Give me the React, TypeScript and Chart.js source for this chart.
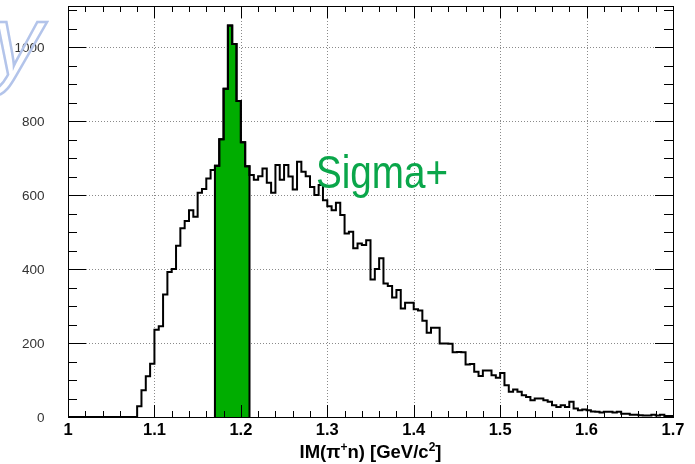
import React, { useEffect, useRef } from "react";
import { Chart, registerables } from "chart.js";

Chart.register(...registerables);

// ---- data ----
const X_MIN = 1.0;
const X_MAX = 1.7;
const BIN_WIDTH = 0.005;
const Y_MIN = 0;
const Y_MAX = 1111;

// counts per bin, bins of 0.005 GeV/c^2 from 1.000 to 1.700
const counts = [
  0, 0, 0, 0, 0, 0, 0, 0, 0, 0, 0, 0, 0, 0, 0, 0,
  29, 72, 110, 144, 236, 245, 331, 392, 400, 463, 510, 530, 559, 541, 606, 616, 645, 668,
  679, 751, 887, 1058, 1008, 854, 743, 678,
  654, 641, 651, 672, 633, 606, 681, 641, 681, 650, 615, 690, 663, 651, 622, 600, 627, 586,
  570, 559, 579, 546, 496, 501, 456, 469, 465, 478, 372, 400, 429, 361, 354, 323, 343, 293, 309, 309,
  291, 288, 260, 228, 241, 241, 199, 199, 198, 175, 176, 175, 142, 143, 122, 111, 126, 126, 113, 106,
  119, 86, 68, 74, 68, 59, 54, 45, 50, 50, 45, 41, 32, 27, 32, 27, 41, 23, 18, 20,
  18, 15, 14, 12, 14, 14, 12, 14, 9, 9, 6, 6, 5, 4, 4, 6, 4, 6, 3, 3,
];

// selected (filled) mass window
const SEL_LOW = 1.17;
const SEL_HIGH = 1.21;

const xTickValues = [1.0, 1.1, 1.2, 1.3, 1.4, 1.5, 1.6, 1.7];
const xTickLabels = ["1", "1.1", "1.2", "1.3", "1.4", "1.5", "1.6", "1.7"];
const yTickValues = [0, 200, 400, 600, 800, 1000];
const yTickLabels = ["0", "200", "400", "600", "800", "1000"];
const X_MINOR = 0.02;
const Y_MINOR = 50;

const LABEL_TEXT = "Sigma+";
const TITLE_PARTS = [
  { t: "IM(\u03c0", sup: false },
  { t: "+", sup: true },
  { t: "n) [GeV/c", sup: false },
  { t: "2", sup: true },
  { t: "]", sup: false },
];

const FONT = "'Liberation Sans', Arial, Helvetica, sans-serif";
const GREEN = "#00ad00";

function histPoints(lo: number, hi: number, closeToZero: boolean) {
  const pts: { x: number; y: number }[] = [];
  for (let i = 0; i < counts.length; i++) {
    const x0 = X_MIN + i * BIN_WIDTH;
    const x1 = x0 + BIN_WIDTH;
    const c = x0 + BIN_WIDTH / 2;
    if (c < lo || c > hi) continue;
    if (closeToZero && pts.length === 0) pts.push({ x: x0, y: 0 });
    pts.push({ x: x0, y: counts[i] });
    pts.push({ x: x1, y: counts[i] });
  }
  if (closeToZero && pts.length) pts.push({ x: pts[pts.length - 1].x, y: 0 });
  return pts;
}

const overlay = {
  id: "overlay",
  beforeDatasetsDraw(chart: any) {
    const { ctx, chartArea: a, scales } = chart;
    const x = scales.x;
    const y = scales.y;
    ctx.save();
    ctx.strokeStyle = "#8a8a8a";
    ctx.lineWidth = 1;
    ctx.setLineDash([1, 2]);
    for (const v of xTickValues) {
      if (v <= X_MIN + 1e-9 || v >= X_MAX - 1e-9) continue;
      const px = Math.round(x.getPixelForValue(v)) + 0.5;
      ctx.beginPath();
      ctx.moveTo(px, a.top);
      ctx.lineTo(px, a.bottom);
      ctx.stroke();
    }
    for (const v of yTickValues) {
      if (v <= Y_MIN) continue;
      const py = Math.round(y.getPixelForValue(v)) + 0.5;
      ctx.beginPath();
      ctx.moveTo(a.left, py);
      ctx.lineTo(a.right, py);
      ctx.stroke();
    }
    ctx.restore();
  },
  afterDatasetsDraw(chart: any) {
    const { ctx, chartArea: a, scales } = chart;
    const x = scales.x;
    const y = scales.y;
    ctx.save();
    // frame
    ctx.strokeStyle = "#000";
    ctx.lineWidth = 1;
    ctx.strokeRect(Math.round(a.left) + 0.5, Math.round(a.top) + 0.5, Math.round(a.right - a.left), Math.round(a.bottom - a.top));
    // x ticks (inside, bottom and top)
    ctx.beginPath();
    const nx = Math.round((X_MAX - X_MIN) / X_MINOR);
    for (let k = 0; k <= nx; k++) {
      const v = X_MIN + k * X_MINOR;
      const major = k % 5 === 0;
      const len = major ? 12 : 6;
      const px = Math.round(x.getPixelForValue(v)) + 0.5;
      ctx.moveTo(px, a.bottom);
      ctx.lineTo(px, a.bottom - len);
      ctx.moveTo(px, a.top);
      ctx.lineTo(px, a.top + len);
    }
    // y ticks (inside, left and right)
    const ny = Math.floor((Y_MAX - Y_MIN) / Y_MINOR);
    for (let k = 0; k <= ny; k++) {
      const v = Y_MIN + k * Y_MINOR;
      const major = k % 4 === 0;
      const len = major ? 18 : 9;
      const py = Math.round(y.getPixelForValue(v)) + 0.5;
      ctx.moveTo(a.left, py);
      ctx.lineTo(a.left + len, py);
      ctx.moveTo(a.right, py);
      ctx.lineTo(a.right - len, py);
    }
    ctx.strokeStyle = "#000";
    ctx.lineWidth = 1;
    ctx.stroke();

    // x tick labels
    ctx.fillStyle = "#000";
    ctx.font = `bold 16.5px ${FONT}`;
    ctx.textAlign = "center";
    ctx.textBaseline = "alphabetic";
    xTickValues.forEach((v, i) => {
      ctx.fillText(xTickLabels[i], x.getPixelForValue(v), a.bottom + 18);
    });
    // y tick labels
    ctx.fillStyle = "#333";
    ctx.font = `13.5px ${FONT}`;
    ctx.textAlign = "right";
    ctx.textBaseline = "middle";
    yTickValues.forEach((v, i) => {
      ctx.fillText(yTickLabels[i], a.left - 23.5, y.getPixelForValue(v) + 1);
    });

    // Sigma+ label
    ctx.save();
    ctx.translate(316, 188);
    ctx.scale(0.84, 1);
    ctx.fillStyle = "#0aa64a";
    ctx.font = `46px ${FONT}`;
    ctx.textBaseline = "alphabetic";
    ctx.textAlign = "left";
    ctx.fillText(LABEL_TEXT, 0, 0);
    ctx.restore();

    // axis title with superscripts
    const big = `bold 18.5px ${FONT}`;
    const small = `bold 12px ${FONT}`;
    let total = 0;
    for (const p of TITLE_PARTS) {
      ctx.font = p.sup ? small : big;
      total += ctx.measureText(p.t).width;
    }
    let tx = (a.left + a.right) / 2 - total / 2;
    const ty = 458;
    ctx.fillStyle = "#000";
    ctx.textBaseline = "alphabetic";
    ctx.textAlign = "left";
    for (const p of TITLE_PARTS) {
      ctx.font = p.sup ? small : big;
      ctx.fillText(p.t, tx, p.sup ? ty - 7 : ty);
      tx += ctx.measureText(p.t).width;
    }

    // faint watermark glyph at top-left
    ctx.font = `italic 100px ${FONT}`;
    ctx.strokeStyle = "#b3c4ea";
    ctx.lineWidth = 2.5;
    ctx.strokeText("y", -8, 75);
    ctx.restore();
  },
};

export default function App() {
  const ref = useRef<HTMLCanvasElement | null>(null);
  useEffect(() => {
    document.body.style.margin = "0";
    const canvas = ref.current;
    if (!canvas) return;
    const chart = new Chart(canvas, {
      type: "line",
      data: {
        datasets: [
          {
            data: histPoints(X_MIN, X_MAX, false),
            borderColor: "#000",
            borderWidth: 2,
            pointRadius: 0,
            tension: 0,
            fill: false,
            order: 1,
            borderJoinStyle: "miter",
          } as any,
          {
            data: histPoints(SEL_LOW, SEL_HIGH, true),
            borderColor: "#000",
            backgroundColor: GREEN,
            borderWidth: 2,
            pointRadius: 0,
            tension: 0,
            fill: "origin",
            order: 2,
            borderJoinStyle: "miter",
          } as any,
        ],
      },
      options: {
        animation: false,
        responsive: false,
        maintainAspectRatio: false,
        devicePixelRatio: 1,
        layout: { autoPadding: false, padding: { top: 6, right: 22, left: 68, bottom: 47 } },
        plugins: { legend: { display: false }, tooltip: { enabled: false }, title: { display: false } },
        scales: {
          x: { type: "linear", min: X_MIN, max: X_MAX, display: false },
          y: { type: "linear", min: Y_MIN, max: Y_MAX, display: false },
        },
      } as any,
      plugins: [overlay],
    });
    return () => chart.destroy();
  }, []);
  return (
    <div style={{ width: 695, height: 464, overflow: "hidden", background: "#fff" }}>
      <canvas ref={ref} width={695} height={464} style={{ display: "block", width: 695, height: 464 }} />
    </div>
  );
}
